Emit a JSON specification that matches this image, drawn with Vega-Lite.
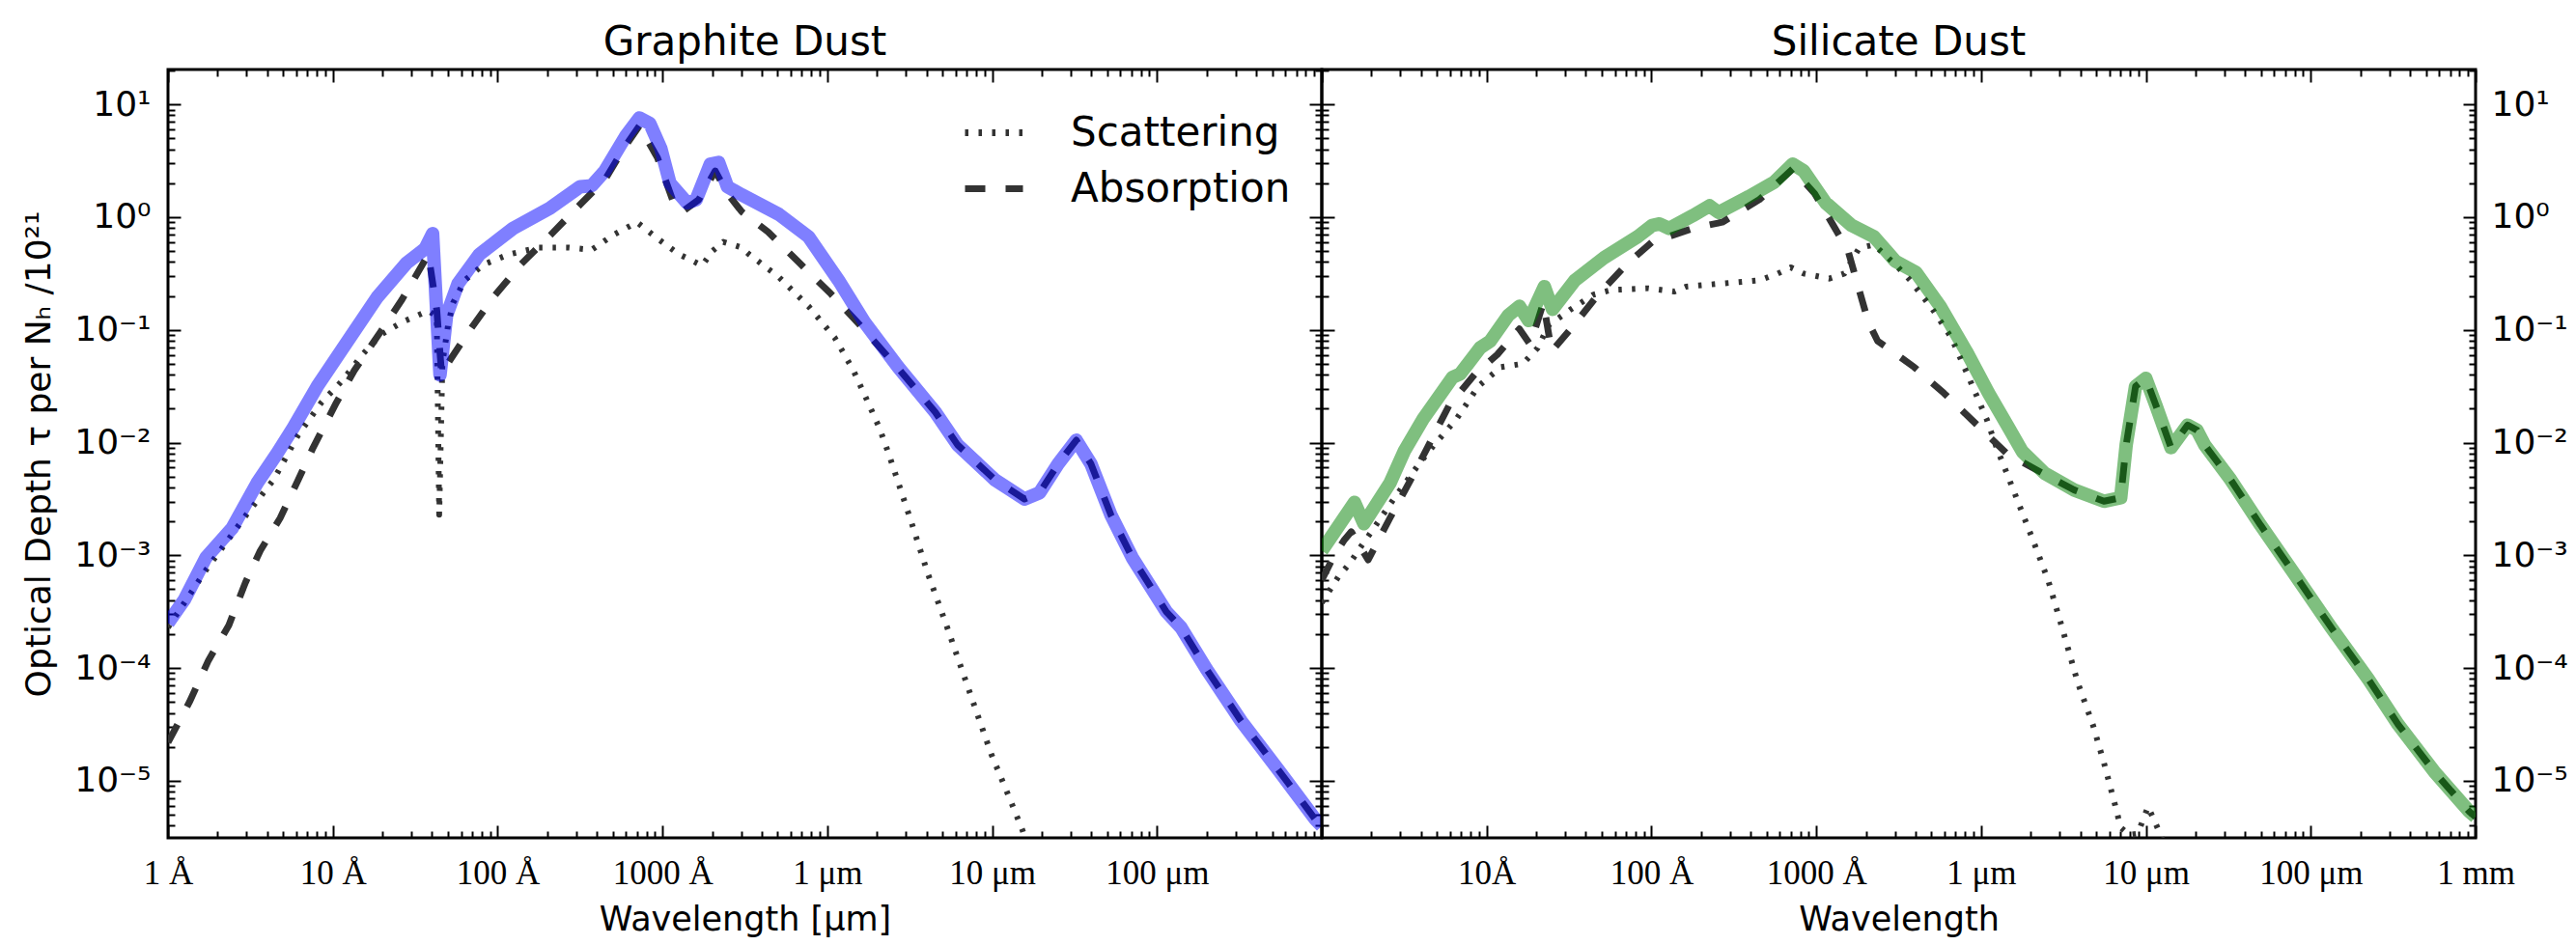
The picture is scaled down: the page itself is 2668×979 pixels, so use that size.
{
  "$schema": "https://vega.github.io/schema/vega-lite/v6.json",
  "padding": {"left": 20, "top": 21, "right": 5, "bottom": 3},
  "background": "white",
  "spacing": 0,
  "bounds": "flush",
  "config": {
    "view": {"stroke": "black", "strokeWidth": 3},
    "font": "DejaVu Sans",
    "axis": {"grid": false, "domain": false, "tickColor": "black", "tickWidth": 2, "labelColor": "black", "titleColor": "black", "titleFontWeight": "normal", "labelFlush": false, "labelOverlap": false, "labelBound": false}
  },
  "resolve": {"legend": {"strokeDash": "independent"}},
  "datasets": {
    "dust": [
      {"dust":"Graphite","kind":"Scattering","wl":0.0001,"tau":0.000229},
      {"dust":"Graphite","kind":"Scattering","wl":0.00017,"tau":0.000741},
      {"dust":"Graphite","kind":"Scattering","wl":0.000302,"tau":0.00234},
      {"dust":"Graphite","kind":"Scattering","wl":0.000437,"tau":0.00468},
      {"dust":"Graphite","kind":"Scattering","wl":0.000617,"tau":0.0117},
      {"dust":"Graphite","kind":"Scattering","wl":0.000851,"tau":0.0226},
      {"dust":"Graphite","kind":"Scattering","wl":0.00115,"tau":0.0359},
      {"dust":"Graphite","kind":"Scattering","wl":0.00151,"tau":0.0603},
      {"dust":"Graphite","kind":"Scattering","wl":0.00195,"tau":0.0902},
      {"dust":"Graphite","kind":"Scattering","wl":0.00263,"tau":0.117},
      {"dust":"Graphite","kind":"Scattering","wl":0.0038,"tau":0.148},
      {"dust":"Graphite","kind":"Scattering","wl":0.00427,"tau":0.132},
      {"dust":"Graphite","kind":"Scattering","wl":0.00442,"tau":0.00229},
      {"dust":"Graphite","kind":"Scattering","wl":0.00462,"tau":0.0501},
      {"dust":"Graphite","kind":"Scattering","wl":0.00501,"tau":0.112},
      {"dust":"Graphite","kind":"Scattering","wl":0.00537,"tau":0.174},
      {"dust":"Graphite","kind":"Scattering","wl":0.00631,"tau":0.275},
      {"dust":"Graphite","kind":"Scattering","wl":0.00822,"tau":0.38},
      {"dust":"Graphite","kind":"Scattering","wl":0.0117,"tau":0.468},
      {"dust":"Graphite","kind":"Scattering","wl":0.0178,"tau":0.537},
      {"dust":"Graphite","kind":"Scattering","wl":0.0269,"tau":0.537},
      {"dust":"Graphite","kind":"Scattering","wl":0.0372,"tau":0.513},
      {"dust":"Graphite","kind":"Scattering","wl":0.0501,"tau":0.692},
      {"dust":"Graphite","kind":"Scattering","wl":0.07,"tau":0.902},
      {"dust":"Graphite","kind":"Scattering","wl":0.0933,"tau":0.646},
      {"dust":"Graphite","kind":"Scattering","wl":0.126,"tau":0.468},
      {"dust":"Graphite","kind":"Scattering","wl":0.174,"tau":0.372},
      {"dust":"Graphite","kind":"Scattering","wl":0.201,"tau":0.501},
      {"dust":"Graphite","kind":"Scattering","wl":0.234,"tau":0.603},
      {"dust":"Graphite","kind":"Scattering","wl":0.302,"tau":0.537},
      {"dust":"Graphite","kind":"Scattering","wl":0.335,"tau":0.468},
      {"dust":"Graphite","kind":"Scattering","wl":0.507,"tau":0.295},
      {"dust":"Graphite","kind":"Scattering","wl":0.769,"tau":0.162},
      {"dust":"Graphite","kind":"Scattering","wl":1.11,"tau":0.0851},
      {"dust":"Graphite","kind":"Scattering","wl":1.44,"tau":0.0437},
      {"dust":"Graphite","kind":"Scattering","wl":1.77,"tau":0.0226},
      {"dust":"Graphite","kind":"Scattering","wl":2.07,"tau":0.0135},
      {"dust":"Graphite","kind":"Scattering","wl":2.36,"tau":0.00794},
      {"dust":"Graphite","kind":"Scattering","wl":3.21,"tau":0.00204},
      {"dust":"Graphite","kind":"Scattering","wl":4.07,"tau":0.000692},
      {"dust":"Graphite","kind":"Scattering","wl":5.28,"tau":0.00024},
      {"dust":"Graphite","kind":"Scattering","wl":7.21,"tau":0.0000646},
      {"dust":"Graphite","kind":"Scattering","wl":9.86,"tau":0.0000174},
      {"dust":"Graphite","kind":"Scattering","wl":12.8,"tau":0.00000692},
      {"dust":"Graphite","kind":"Scattering","wl":15.3,"tau":0.00000363},
      {"dust":"Graphite","kind":"Scattering","wl":17.8,"tau":0.00000178},

      {"dust":"Graphite","kind":"Absorption","wl":0.0001,"tau":0.0000219},
      {"dust":"Graphite","kind":"Absorption","wl":0.000135,"tau":0.0000501},
      {"dust":"Graphite","kind":"Absorption","wl":0.000176,"tau":0.000117},
      {"dust":"Graphite","kind":"Absorption","wl":0.000234,"tau":0.00024},
      {"dust":"Graphite","kind":"Absorption","wl":0.000295,"tau":0.000575},
      {"dust":"Graphite","kind":"Absorption","wl":0.000363,"tau":0.0011},
      {"dust":"Graphite","kind":"Absorption","wl":0.000479,"tau":0.00214},
      {"dust":"Graphite","kind":"Absorption","wl":0.000617,"tau":0.00468},
      {"dust":"Graphite","kind":"Absorption","wl":0.000759,"tau":0.00902},
      {"dust":"Graphite","kind":"Absorption","wl":0.00105,"tau":0.0226},
      {"dust":"Graphite","kind":"Absorption","wl":0.00135,"tau":0.0437},
      {"dust":"Graphite","kind":"Absorption","wl":0.00195,"tau":0.0964},
      {"dust":"Graphite","kind":"Absorption","wl":0.00263,"tau":0.186},
      {"dust":"Graphite","kind":"Absorption","wl":0.0038,"tau":0.468},
      {"dust":"Graphite","kind":"Absorption","wl":0.00427,"tau":0.151},
      {"dust":"Graphite","kind":"Absorption","wl":0.00457,"tau":0.0407},
      {"dust":"Graphite","kind":"Absorption","wl":0.00513,"tau":0.0537},
      {"dust":"Graphite","kind":"Absorption","wl":0.00668,"tau":0.0964},
      {"dust":"Graphite","kind":"Absorption","wl":0.00955,"tau":0.2},
      {"dust":"Graphite","kind":"Absorption","wl":0.0138,"tau":0.38},
      {"dust":"Graphite","kind":"Absorption","wl":0.0209,"tau":0.692},
      {"dust":"Graphite","kind":"Absorption","wl":0.0316,"tau":1.29},
      {"dust":"Graphite","kind":"Absorption","wl":0.0447,"tau":2.14},
      {"dust":"Graphite","kind":"Absorption","wl":0.0582,"tau":4.07},
      {"dust":"Graphite","kind":"Absorption","wl":0.0724,"tau":6.46},
      {"dust":"Graphite","kind":"Absorption","wl":0.0933,"tau":3.36},
      {"dust":"Graphite","kind":"Absorption","wl":0.115,"tau":1.43},
      {"dust":"Graphite","kind":"Absorption","wl":0.13,"tau":1.1},
      {"dust":"Graphite","kind":"Absorption","wl":0.166,"tau":1.43},
      {"dust":"Graphite","kind":"Absorption","wl":0.209,"tau":2.57},
      {"dust":"Graphite","kind":"Absorption","wl":0.248,"tau":1.62},
      {"dust":"Graphite","kind":"Absorption","wl":0.302,"tau":1.12},
      {"dust":"Graphite","kind":"Absorption","wl":0.437,"tau":0.741},
      {"dust":"Graphite","kind":"Absorption","wl":0.661,"tau":0.407},
      {"dust":"Graphite","kind":"Absorption","wl":1.05,"tau":0.209},
      {"dust":"Graphite","kind":"Absorption","wl":1.58,"tau":0.11},
      {"dust":"Graphite","kind":"Absorption","wl":2.69,"tau":0.0457},
      {"dust":"Graphite","kind":"Absorption","wl":4.52,"tau":0.0186},
      {"dust":"Graphite","kind":"Absorption","wl":6.17,"tau":0.00955},
      {"dust":"Graphite","kind":"Absorption","wl":10.4,"tau":0.00468},
      {"dust":"Graphite","kind":"Absorption","wl":15.7,"tau":0.00316},
      {"dust":"Graphite","kind":"Absorption","wl":19.4,"tau":0.00359},
      {"dust":"Graphite","kind":"Absorption","wl":25.1,"tau":0.00646},
      {"dust":"Graphite","kind":"Absorption","wl":32.4,"tau":0.0105},
      {"dust":"Graphite","kind":"Absorption","wl":39.8,"tau":0.00646},
      {"dust":"Graphite","kind":"Absorption","wl":52.5,"tau":0.00229},
      {"dust":"Graphite","kind":"Absorption","wl":70.8,"tau":0.000955},
      {"dust":"Graphite","kind":"Absorption","wl":114,"tau":0.000316},
      {"dust":"Graphite","kind":"Absorption","wl":140,"tau":0.000229},
      {"dust":"Graphite","kind":"Absorption","wl":200,"tau":0.0000977},
      {"dust":"Graphite","kind":"Absorption","wl":324,"tau":0.0000339},
      {"dust":"Graphite","kind":"Absorption","wl":543,"tau":0.0000126},
      {"dust":"Graphite","kind":"Absorption","wl":912,"tau":0.00000457},
      {"dust":"Graphite","kind":"Absorption","wl":1000,"tau":0.00000398},

      {"dust":"Graphite","kind":"Total","wl":0.0001,"tau":0.000251},
      {"dust":"Graphite","kind":"Total","wl":0.000126,"tau":0.000407},
      {"dust":"Graphite","kind":"Total","wl":0.00017,"tau":0.000955},
      {"dust":"Graphite","kind":"Total","wl":0.000245,"tau":0.00174},
      {"dust":"Graphite","kind":"Total","wl":0.000347,"tau":0.00437},
      {"dust":"Graphite","kind":"Total","wl":0.000457,"tau":0.00794},
      {"dust":"Graphite","kind":"Total","wl":0.000575,"tau":0.0135},
      {"dust":"Graphite","kind":"Total","wl":0.000805,"tau":0.0316},
      {"dust":"Graphite","kind":"Total","wl":0.00123,"tau":0.0794},
      {"dust":"Graphite","kind":"Total","wl":0.00186,"tau":0.195},
      {"dust":"Graphite","kind":"Total","wl":0.00279,"tau":0.389},
      {"dust":"Graphite","kind":"Total","wl":0.00363,"tau":0.525},
      {"dust":"Graphite","kind":"Total","wl":0.00403,"tau":0.714},
      {"dust":"Graphite","kind":"Total","wl":0.00447,"tau":0.0398},
      {"dust":"Graphite","kind":"Total","wl":0.0049,"tau":0.135},
      {"dust":"Graphite","kind":"Total","wl":0.00575,"tau":0.257},
      {"dust":"Graphite","kind":"Total","wl":0.00776,"tau":0.468},
      {"dust":"Graphite","kind":"Total","wl":0.0124,"tau":0.794},
      {"dust":"Graphite","kind":"Total","wl":0.0209,"tau":1.21},
      {"dust":"Graphite","kind":"Total","wl":0.0316,"tau":1.86},
      {"dust":"Graphite","kind":"Total","wl":0.0372,"tau":1.9},
      {"dust":"Graphite","kind":"Total","wl":0.0447,"tau":2.57},
      {"dust":"Graphite","kind":"Total","wl":0.0603,"tau":5.32},
      {"dust":"Graphite","kind":"Total","wl":0.0724,"tau":7.59},
      {"dust":"Graphite","kind":"Total","wl":0.0838,"tau":6.76},
      {"dust":"Graphite","kind":"Total","wl":0.0977,"tau":4.07},
      {"dust":"Graphite","kind":"Total","wl":0.111,"tau":2.0},
      {"dust":"Graphite","kind":"Total","wl":0.141,"tau":1.34},
      {"dust":"Graphite","kind":"Total","wl":0.16,"tau":1.43},
      {"dust":"Graphite","kind":"Total","wl":0.195,"tau":2.95},
      {"dust":"Graphite","kind":"Total","wl":0.219,"tau":3.06},
      {"dust":"Graphite","kind":"Total","wl":0.248,"tau":1.86},
      {"dust":"Graphite","kind":"Total","wl":0.302,"tau":1.58},
      {"dust":"Graphite","kind":"Total","wl":0.508,"tau":1.06},
      {"dust":"Graphite","kind":"Total","wl":0.769,"tau":0.67},
      {"dust":"Graphite","kind":"Total","wl":1.17,"tau":0.275},
      {"dust":"Graphite","kind":"Total","wl":1.68,"tau":0.117},
      {"dust":"Graphite","kind":"Total","wl":2.69,"tau":0.0468},
      {"dust":"Graphite","kind":"Total","wl":4.52,"tau":0.0186},
      {"dust":"Graphite","kind":"Total","wl":6.17,"tau":0.00955},
      {"dust":"Graphite","kind":"Total","wl":10.4,"tau":0.00468},
      {"dust":"Graphite","kind":"Total","wl":15.7,"tau":0.00316},
      {"dust":"Graphite","kind":"Total","wl":19.4,"tau":0.00359},
      {"dust":"Graphite","kind":"Total","wl":25.1,"tau":0.00646},
      {"dust":"Graphite","kind":"Total","wl":32.4,"tau":0.0105},
      {"dust":"Graphite","kind":"Total","wl":39.8,"tau":0.00646},
      {"dust":"Graphite","kind":"Total","wl":52.5,"tau":0.00229},
      {"dust":"Graphite","kind":"Total","wl":70.8,"tau":0.000955},
      {"dust":"Graphite","kind":"Total","wl":114,"tau":0.000316},
      {"dust":"Graphite","kind":"Total","wl":140,"tau":0.000229},
      {"dust":"Graphite","kind":"Total","wl":200,"tau":0.0000977},
      {"dust":"Graphite","kind":"Total","wl":324,"tau":0.0000339},
      {"dust":"Graphite","kind":"Total","wl":543,"tau":0.0000126},
      {"dust":"Graphite","kind":"Total","wl":912,"tau":0.00000457},
      {"dust":"Graphite","kind":"Total","wl":1000,"tau":0.00000398},

      {"dust":"Silicate","kind":"Scattering","wl":0.0001,"tau":0.00038},
      {"dust":"Silicate","kind":"Scattering","wl":0.000126,"tau":0.000646},
      {"dust":"Silicate","kind":"Scattering","wl":0.000148,"tau":0.000851},
      {"dust":"Silicate","kind":"Scattering","wl":0.000171,"tau":0.00117},
      {"dust":"Silicate","kind":"Scattering","wl":0.0002,"tau":0.00162},
      {"dust":"Silicate","kind":"Scattering","wl":0.000273,"tau":0.00316},
      {"dust":"Silicate","kind":"Scattering","wl":0.000389,"tau":0.00646},
      {"dust":"Silicate","kind":"Scattering","wl":0.000481,"tau":0.00955},
      {"dust":"Silicate","kind":"Scattering","wl":0.000656,"tau":0.0162},
      {"dust":"Silicate","kind":"Scattering","wl":0.000891,"tau":0.0316},
      {"dust":"Silicate","kind":"Scattering","wl":0.00122,"tau":0.0468},
      {"dust":"Silicate","kind":"Scattering","wl":0.00166,"tau":0.0501},
      {"dust":"Silicate","kind":"Scattering","wl":0.00204,"tau":0.0692},
      {"dust":"Silicate","kind":"Scattering","wl":0.00238,"tau":0.11},
      {"dust":"Silicate","kind":"Scattering","wl":0.00324,"tau":0.152},
      {"dust":"Silicate","kind":"Scattering","wl":0.00443,"tau":0.205},
      {"dust":"Silicate","kind":"Scattering","wl":0.00571,"tau":0.226},
      {"dust":"Silicate","kind":"Scattering","wl":0.00959,"tau":0.234},
      {"dust":"Silicate","kind":"Scattering","wl":0.0138,"tau":0.219},
      {"dust":"Silicate","kind":"Scattering","wl":0.0162,"tau":0.242},
      {"dust":"Silicate","kind":"Scattering","wl":0.0269,"tau":0.258},
      {"dust":"Silicate","kind":"Scattering","wl":0.0452,"tau":0.275},
      {"dust":"Silicate","kind":"Scattering","wl":0.0585,"tau":0.316},
      {"dust":"Silicate","kind":"Scattering","wl":0.0701,"tau":0.358},
      {"dust":"Silicate","kind":"Scattering","wl":0.0838,"tau":0.316},
      {"dust":"Silicate","kind":"Scattering","wl":0.12,"tau":0.285},
      {"dust":"Silicate","kind":"Scattering","wl":0.148,"tau":0.316},
      {"dust":"Silicate","kind":"Scattering","wl":0.182,"tau":0.532},
      {"dust":"Silicate","kind":"Scattering","wl":0.224,"tau":0.569},
      {"dust":"Silicate","kind":"Scattering","wl":0.302,"tau":0.38},
      {"dust":"Silicate","kind":"Scattering","wl":0.372,"tau":0.275},
      {"dust":"Silicate","kind":"Scattering","wl":0.508,"tau":0.152},
      {"dust":"Silicate","kind":"Scattering","wl":0.661,"tau":0.0851},
      {"dust":"Silicate","kind":"Scattering","wl":0.855,"tau":0.0359},
      {"dust":"Silicate","kind":"Scattering","wl":1.08,"tau":0.0162},
      {"dust":"Silicate","kind":"Scattering","wl":1.26,"tau":0.00851},
      {"dust":"Silicate","kind":"Scattering","wl":1.36,"tau":0.00646},
      {"dust":"Silicate","kind":"Scattering","wl":1.68,"tau":0.00295},
      {"dust":"Silicate","kind":"Scattering","wl":2.07,"tau":0.00135},
      {"dust":"Silicate","kind":"Scattering","wl":2.55,"tau":0.000603},
      {"dust":"Silicate","kind":"Scattering","wl":3.14,"tau":0.000214},
      {"dust":"Silicate","kind":"Scattering","wl":3.86,"tau":0.0000741},
      {"dust":"Silicate","kind":"Scattering","wl":4.76,"tau":0.0000316},
      {"dust":"Silicate","kind":"Scattering","wl":5.56,"tau":0.0000145},
      {"dust":"Silicate","kind":"Scattering","wl":6.5,"tau":0.0000061},
      {"dust":"Silicate","kind":"Scattering","wl":7.03,"tau":0.00000385},
      {"dust":"Silicate","kind":"Scattering","wl":7.94,"tau":0.00000331},
      {"dust":"Silicate","kind":"Scattering","wl":8.91,"tau":0.00000339},
      {"dust":"Silicate","kind":"Scattering","wl":10.3,"tau":0.00000589},
      {"dust":"Silicate","kind":"Scattering","wl":12.2,"tau":0.00000339},
      {"dust":"Silicate","kind":"Scattering","wl":13.5,"tau":0.00000224},

      {"dust":"Silicate","kind":"Absorption","wl":0.0001,"tau":0.000603},
      {"dust":"Silicate","kind":"Absorption","wl":0.000117,"tau":0.000955},
      {"dust":"Silicate","kind":"Absorption","wl":0.000136,"tau":0.00135},
      {"dust":"Silicate","kind":"Absorption","wl":0.000151,"tau":0.00162},
      {"dust":"Silicate","kind":"Absorption","wl":0.000191,"tau":0.000912},
      {"dust":"Silicate","kind":"Absorption","wl":0.000259,"tau":0.00214},
      {"dust":"Silicate","kind":"Absorption","wl":0.000355,"tau":0.00501},
      {"dust":"Silicate","kind":"Absorption","wl":0.000437,"tau":0.00902},
      {"dust":"Silicate","kind":"Absorption","wl":0.000592,"tau":0.0214},
      {"dust":"Silicate","kind":"Absorption","wl":0.000851,"tau":0.0407},
      {"dust":"Silicate","kind":"Absorption","wl":0.00116,"tau":0.0603},
      {"dust":"Silicate","kind":"Absorption","wl":0.00158,"tau":0.102},
      {"dust":"Silicate","kind":"Absorption","wl":0.00184,"tau":0.0741},
      {"dust":"Silicate","kind":"Absorption","wl":0.00221,"tau":0.174},
      {"dust":"Silicate","kind":"Absorption","wl":0.00248,"tau":0.0646},
      {"dust":"Silicate","kind":"Absorption","wl":0.00324,"tau":0.102},
      {"dust":"Silicate","kind":"Absorption","wl":0.00468,"tau":0.2},
      {"dust":"Silicate","kind":"Absorption","wl":0.00705,"tau":0.38},
      {"dust":"Silicate","kind":"Absorption","wl":0.0101,"tau":0.603},
      {"dust":"Silicate","kind":"Absorption","wl":0.0117,"tau":0.646},
      {"dust":"Silicate","kind":"Absorption","wl":0.0178,"tau":0.794},
      {"dust":"Silicate","kind":"Absorption","wl":0.0269,"tau":0.902},
      {"dust":"Silicate","kind":"Absorption","wl":0.0451,"tau":1.43},
      {"dust":"Silicate","kind":"Absorption","wl":0.0719,"tau":2.67},
      {"dust":"Silicate","kind":"Absorption","wl":0.0977,"tau":1.62},
      {"dust":"Silicate","kind":"Absorption","wl":0.127,"tau":0.843},
      {"dust":"Silicate","kind":"Absorption","wl":0.156,"tau":0.501},
      {"dust":"Silicate","kind":"Absorption","wl":0.182,"tau":0.226},
      {"dust":"Silicate","kind":"Absorption","wl":0.207,"tau":0.117},
      {"dust":"Silicate","kind":"Absorption","wl":0.236,"tau":0.0794},
      {"dust":"Silicate","kind":"Absorption","wl":0.302,"tau":0.0617},
      {"dust":"Silicate","kind":"Absorption","wl":0.392,"tau":0.0468},
      {"dust":"Silicate","kind":"Absorption","wl":0.594,"tau":0.0275},
      {"dust":"Silicate","kind":"Absorption","wl":0.948,"tau":0.0143},
      {"dust":"Silicate","kind":"Absorption","wl":1.44,"tau":0.00794},
      {"dust":"Silicate","kind":"Absorption","wl":2.42,"tau":0.00525},
      {"dust":"Silicate","kind":"Absorption","wl":3.67,"tau":0.0038},
      {"dust":"Silicate","kind":"Absorption","wl":5.56,"tau":0.00302},
      {"dust":"Silicate","kind":"Absorption","wl":7.03,"tau":0.00324},
      {"dust":"Silicate","kind":"Absorption","wl":7.59,"tau":0.00955},
      {"dust":"Silicate","kind":"Absorption","wl":8.65,"tau":0.0316},
      {"dust":"Silicate","kind":"Absorption","wl":9.98,"tau":0.0372},
      {"dust":"Silicate","kind":"Absorption","wl":11.5,"tau":0.0214},
      {"dust":"Silicate","kind":"Absorption","wl":14.2,"tau":0.00902},
      {"dust":"Silicate","kind":"Absorption","wl":17.9,"tau":0.0143},
      {"dust":"Silicate","kind":"Absorption","wl":20.4,"tau":0.0129},
      {"dust":"Silicate","kind":"Absorption","wl":22.7,"tau":0.00955},
      {"dust":"Silicate","kind":"Absorption","wl":32.7,"tau":0.00468},
      {"dust":"Silicate","kind":"Absorption","wl":49.5,"tau":0.00186},
      {"dust":"Silicate","kind":"Absorption","wl":79.1,"tau":0.000692},
      {"dust":"Silicate","kind":"Absorption","wl":133,"tau":0.000229},
      {"dust":"Silicate","kind":"Absorption","wl":224,"tau":0.0000794},
      {"dust":"Silicate","kind":"Absorption","wl":339,"tau":0.0000316},
      {"dust":"Silicate","kind":"Absorption","wl":571,"tau":0.0000117},
      {"dust":"Silicate","kind":"Absorption","wl":912,"tau":0.00000537},
      {"dust":"Silicate","kind":"Absorption","wl":1000,"tau":0.00000479},

      {"dust":"Silicate","kind":"Total","wl":0.0001,"tau":0.0011},
      {"dust":"Silicate","kind":"Total","wl":0.000158,"tau":0.00295},
      {"dust":"Silicate","kind":"Total","wl":0.00018,"tau":0.00191},
      {"dust":"Silicate","kind":"Total","wl":0.000259,"tau":0.00437},
      {"dust":"Silicate","kind":"Total","wl":0.000318,"tau":0.00851},
      {"dust":"Silicate","kind":"Total","wl":0.000412,"tau":0.0162},
      {"dust":"Silicate","kind":"Total","wl":0.000622,"tau":0.038},
      {"dust":"Silicate","kind":"Total","wl":0.000692,"tau":0.0407},
      {"dust":"Silicate","kind":"Total","wl":0.000912,"tau":0.0692},
      {"dust":"Silicate","kind":"Total","wl":0.00105,"tau":0.0794},
      {"dust":"Silicate","kind":"Total","wl":0.00135,"tau":0.134},
      {"dust":"Silicate","kind":"Total","wl":0.00158,"tau":0.162},
      {"dust":"Silicate","kind":"Total","wl":0.0018,"tau":0.121},
      {"dust":"Silicate","kind":"Total","wl":0.00224,"tau":0.242},
      {"dust":"Silicate","kind":"Total","wl":0.00251,"tau":0.152},
      {"dust":"Silicate","kind":"Total","wl":0.00343,"tau":0.275},
      {"dust":"Silicate","kind":"Total","wl":0.00516,"tau":0.437},
      {"dust":"Silicate","kind":"Total","wl":0.00824,"tau":0.67},
      {"dust":"Silicate","kind":"Total","wl":0.0101,"tau":0.843},
      {"dust":"Silicate","kind":"Total","wl":0.0112,"tau":0.871},
      {"dust":"Silicate","kind":"Total","wl":0.0128,"tau":0.794},
      {"dust":"Silicate","kind":"Total","wl":0.0178,"tau":1.03},
      {"dust":"Silicate","kind":"Total","wl":0.0225,"tau":1.26},
      {"dust":"Silicate","kind":"Total","wl":0.0256,"tau":1.1},
      {"dust":"Silicate","kind":"Total","wl":0.0389,"tau":1.52},
      {"dust":"Silicate","kind":"Total","wl":0.0557,"tau":2.05},
      {"dust":"Silicate","kind":"Total","wl":0.0719,"tau":2.95},
      {"dust":"Silicate","kind":"Total","wl":0.0838,"tau":2.57},
      {"dust":"Silicate","kind":"Total","wl":0.114,"tau":1.34},
      {"dust":"Silicate","kind":"Total","wl":0.164,"tau":0.843},
      {"dust":"Silicate","kind":"Total","wl":0.224,"tau":0.67},
      {"dust":"Silicate","kind":"Total","wl":0.302,"tau":0.407},
      {"dust":"Silicate","kind":"Total","wl":0.402,"tau":0.324},
      {"dust":"Silicate","kind":"Total","wl":0.564,"tau":0.162},
      {"dust":"Silicate","kind":"Total","wl":0.813,"tau":0.0646},
      {"dust":"Silicate","kind":"Total","wl":1.11,"tau":0.0275},
      {"dust":"Silicate","kind":"Total","wl":1.44,"tau":0.0143},
      {"dust":"Silicate","kind":"Total","wl":1.78,"tau":0.00832},
      {"dust":"Silicate","kind":"Total","wl":2.42,"tau":0.00537},
      {"dust":"Silicate","kind":"Total","wl":3.67,"tau":0.0038},
      {"dust":"Silicate","kind":"Total","wl":5.56,"tau":0.00302},
      {"dust":"Silicate","kind":"Total","wl":7.03,"tau":0.00324},
      {"dust":"Silicate","kind":"Total","wl":7.59,"tau":0.00955},
      {"dust":"Silicate","kind":"Total","wl":8.65,"tau":0.0316},
      {"dust":"Silicate","kind":"Total","wl":9.98,"tau":0.0372},
      {"dust":"Silicate","kind":"Total","wl":11.5,"tau":0.0214},
      {"dust":"Silicate","kind":"Total","wl":14.2,"tau":0.00902},
      {"dust":"Silicate","kind":"Total","wl":17.9,"tau":0.0143},
      {"dust":"Silicate","kind":"Total","wl":20.4,"tau":0.0129},
      {"dust":"Silicate","kind":"Total","wl":22.7,"tau":0.00955},
      {"dust":"Silicate","kind":"Total","wl":32.7,"tau":0.00468},
      {"dust":"Silicate","kind":"Total","wl":49.5,"tau":0.00186},
      {"dust":"Silicate","kind":"Total","wl":79.1,"tau":0.000692},
      {"dust":"Silicate","kind":"Total","wl":133,"tau":0.000229},
      {"dust":"Silicate","kind":"Total","wl":224,"tau":0.0000794},
      {"dust":"Silicate","kind":"Total","wl":339,"tau":0.0000316},
      {"dust":"Silicate","kind":"Total","wl":571,"tau":0.0000117},
      {"dust":"Silicate","kind":"Total","wl":912,"tau":0.00000537},
      {"dust":"Silicate","kind":"Total","wl":1000,"tau":0.00000479}
    ]
  },
  "data": {"name": "dust"},
  "hconcat": [
    {
      "width": 1195,
      "height": 796,
      "title": {"text": "Graphite Dust", "font": "DejaVu Sans", "fontSize": 42, "fontWeight": "normal", "color": "black", "baseline": "alphabetic", "offset": -28, "anchor": "middle"},
      "transform": [{"filter": "datum.dust === 'Graphite'"}],
      "resolve": {"axis": {"x": "independent", "y": "independent"}},
      "layer": [
        {
          "transform": [{"filter": "datum.kind === 'Scattering'"}],
          "mark": {"type": "line", "color": "#333333", "strokeWidth": 6, "clip": true, "strokeJoin": "round"},
          "encoding": {
            "x": {"field": "wl", "type": "quantitative", "scale": {"type": "log", "domain": [0.0001, 1000], "nice": false},
              "axis": {"orient": "bottom", "values": [0.0001, 0.001, 0.01, 0.1, 1, 10, 100], "ticks": false, "tickSize": 0, "labelPadding": 19, "labelFont": "Liberation Serif", "labelFontSize": 35,
                "labelExpr": "datum.value < 0.0005 ? '1 Å' : datum.value < 0.005 ? '10 Å' : datum.value < 0.05 ? '100 Å' : datum.value < 0.5 ? '1000 Å' : datum.value < 5 ? '1 μm' : datum.value < 50 ? '10 μm' : '100 μm'",
                "title": "Wavelength [μm]", "titleFont": "DejaVu Sans", "titleFontSize": 35, "titleBaseline": "alphabetic", "titleY": 95}},
            "y": {"field": "tau", "type": "quantitative", "scale": {"type": "log", "domain": [0.00000312, 20.4], "nice": false},
              "axis": {"orient": "left", "values": [0.00001, 0.0001, 0.001, 0.01, 0.1, 1, 10], "ticks": false, "tickSize": 0, "labelPadding": 18, "labelFont": "DejaVu Sans", "labelFontSize": 36,
                "labelExpr": "'10' + (datum.value > 5 ? '¹' : datum.value > 0.5 ? '⁰' : datum.value > 0.05 ? '⁻¹' : datum.value > 0.005 ? '⁻²' : datum.value > 0.0005 ? '⁻³' : datum.value > 0.00005 ? '⁻⁴' : '⁻⁵')",
                "title": "Optical Depth τ per Nₕ /10²¹", "titleFont": "DejaVu Sans", "titleFontSize": 36, "titleBaseline": "alphabetic", "titleX": -123}},
            "strokeDash": {"field": "kind", "type": "nominal",
              "scale": {"domain": ["Scattering", "Absorption"], "range": [[3.5, 10.5], [21, 21]]},
              "legend": {"orient": "top-right", "offset": 32, "title": null, "padding": 0, "labelFont": "DejaVu Sans", "labelFontSize": 42, "labelColor": "black", "labelLimit": 500, "symbolType": "stroke", "symbolSize": 3600, "symbolStrokeWidth": 7, "symbolStrokeColor": "#333333", "labelOffset": 46, "rowPadding": 3}}
          }
        },
        {
          "transform": [{"filter": "datum.kind === 'Absorption'"}],
          "mark": {"type": "line", "color": "#333333", "strokeWidth": 7, "clip": true, "strokeJoin": "round"},
          "encoding": {
            "x": {"field": "wl", "type": "quantitative", "scale": {"type": "log", "domain": [0.0001, 1000], "nice": false},
              "axis": {"orient": "bottom", "labels": false, "title": null, "values": [0.0001,0.0002,0.0003,0.0004,0.0005,0.0006,0.0007,0.0008,0.0009,0.001,0.002,0.003,0.004,0.005,0.006,0.007,0.008,0.009,0.01,0.02,0.03,0.04,0.05,0.06,0.07,0.08,0.09,0.1,0.2,0.3,0.4,0.5,0.6,0.7,0.8,0.9,1,2,3,4,5,6,7,8,9,10,20,30,40,50,60,70,80,90,100,200,300,400,500,600,700,800,900,1000],
                "tickSize": {"condition": {"test": "abs(log(datum.value)/LN10 - round(log(datum.value)/LN10)) < 0.001", "value": -13}, "value": -7}}},
            "y": {"field": "tau", "type": "quantitative", "scale": {"type": "log", "domain": [0.00000312, 20.4], "nice": false},
              "axis": {"orient": "left", "labels": false, "title": null, "values": [0.000004,0.000005,0.000006,0.000007,0.000008,0.000009,0.00001,0.00002,0.00003,0.00004,0.00005,0.00006,0.00007,0.00008,0.00009,0.0001,0.0002,0.0003,0.0004,0.0005,0.0006,0.0007,0.0008,0.0009,0.001,0.002,0.003,0.004,0.005,0.006,0.007,0.008,0.009,0.01,0.02,0.03,0.04,0.05,0.06,0.07,0.08,0.09,0.1,0.2,0.3,0.4,0.5,0.6,0.7,0.8,0.9,1,2,3,4,5,6,7,8,9,10,20],
                "tickSize": {"condition": {"test": "abs(log(datum.value)/LN10 - round(log(datum.value)/LN10)) < 0.001", "value": -13}, "value": -7}}},
            "strokeDash": {"field": "kind", "type": "nominal", "scale": {"domain": ["Scattering", "Absorption"], "range": [[3.5, 10.5], [21, 21]]}}
          }
        },
        {
          "transform": [{"filter": "datum.kind === 'Total'"}],
          "mark": {"type": "line", "color": "#0000ff", "opacity": 0.5, "strokeWidth": 14, "clip": true, "strokeJoin": "round", "strokeCap": "butt"},
          "encoding": {
            "x": {"field": "wl", "type": "quantitative", "scale": {"type": "log", "domain": [0.0001, 1000], "nice": false},
              "axis": {"orient": "top", "labels": false, "title": null, "values": [0.0001,0.0002,0.0003,0.0004,0.0005,0.0006,0.0007,0.0008,0.0009,0.001,0.002,0.003,0.004,0.005,0.006,0.007,0.008,0.009,0.01,0.02,0.03,0.04,0.05,0.06,0.07,0.08,0.09,0.1,0.2,0.3,0.4,0.5,0.6,0.7,0.8,0.9,1,2,3,4,5,6,7,8,9,10,20,30,40,50,60,70,80,90,100,200,300,400,500,600,700,800,900,1000],
                "tickSize": {"condition": {"test": "abs(log(datum.value)/LN10 - round(log(datum.value)/LN10)) < 0.001", "value": -13}, "value": -7}}},
            "y": {"field": "tau", "type": "quantitative", "scale": {"type": "log", "domain": [0.00000312, 20.4], "nice": false},
              "axis": {"orient": "right", "labels": false, "title": null, "values": [0.000004,0.000005,0.000006,0.000007,0.000008,0.000009,0.00001,0.00002,0.00003,0.00004,0.00005,0.00006,0.00007,0.00008,0.00009,0.0001,0.0002,0.0003,0.0004,0.0005,0.0006,0.0007,0.0008,0.0009,0.001,0.002,0.003,0.004,0.005,0.006,0.007,0.008,0.009,0.01,0.02,0.03,0.04,0.05,0.06,0.07,0.08,0.09,0.1,0.2,0.3,0.4,0.5,0.6,0.7,0.8,0.9,1,2,3,4,5,6,7,8,9,10,20],
                "tickSize": {"condition": {"test": "abs(log(datum.value)/LN10 - round(log(datum.value)/LN10)) < 0.001", "value": -13}, "value": -7}}}
          }
        }
      ]
    },
    {
      "width": 1195,
      "height": 796,
      "title": {"text": "Silicate Dust", "font": "DejaVu Sans", "fontSize": 42, "fontWeight": "normal", "color": "black", "baseline": "alphabetic", "offset": -28, "anchor": "middle"},
      "transform": [{"filter": "datum.dust === 'Silicate'"}],
      "resolve": {"axis": {"x": "independent", "y": "independent"}},
      "layer": [
        {
          "transform": [{"filter": "datum.kind === 'Scattering'"}],
          "mark": {"type": "line", "color": "#333333", "strokeWidth": 6, "clip": true, "strokeJoin": "round", "strokeDash": [3.5, 10.5]},
          "encoding": {
            "x": {"field": "wl", "type": "quantitative", "scale": {"type": "log", "domain": [0.0001, 1000], "nice": false},
              "axis": {"orient": "bottom", "values": [0.001, 0.01, 0.1, 1, 10, 100, 1000], "ticks": false, "tickSize": 0, "labelPadding": 19, "labelFont": "Liberation Serif", "labelFontSize": 35,
                "labelExpr": "datum.value < 0.005 ? '10Å' : datum.value < 0.05 ? '100 Å' : datum.value < 0.5 ? '1000 Å' : datum.value < 5 ? '1 μm' : datum.value < 50 ? '10 μm' : datum.value < 500 ? '100 μm' : '1 mm'",
                "title": "Wavelength", "titleFont": "DejaVu Sans", "titleFontSize": 35, "titleBaseline": "alphabetic", "titleY": 95}},
            "y": {"field": "tau", "type": "quantitative", "scale": {"type": "log", "domain": [0.00000312, 20.4], "nice": false},
              "axis": {"orient": "right", "values": [0.00001, 0.0001, 0.001, 0.01, 0.1, 1, 10], "ticks": false, "tickSize": 0, "labelPadding": 16, "labelFont": "DejaVu Sans", "labelFontSize": 36,
                "labelExpr": "'10' + (datum.value > 5 ? '¹' : datum.value > 0.5 ? '⁰' : datum.value > 0.05 ? '⁻¹' : datum.value > 0.005 ? '⁻²' : datum.value > 0.0005 ? '⁻³' : datum.value > 0.00005 ? '⁻⁴' : '⁻⁵')",
                "title": null}}
          }
        },
        {
          "transform": [{"filter": "datum.kind === 'Absorption'"}],
          "mark": {"type": "line", "color": "#333333", "strokeWidth": 7, "clip": true, "strokeJoin": "round", "strokeDash": [21, 21]},
          "encoding": {
            "x": {"field": "wl", "type": "quantitative", "scale": {"type": "log", "domain": [0.0001, 1000], "nice": false},
              "axis": {"orient": "bottom", "labels": false, "title": null, "values": [0.0001,0.0002,0.0003,0.0004,0.0005,0.0006,0.0007,0.0008,0.0009,0.001,0.002,0.003,0.004,0.005,0.006,0.007,0.008,0.009,0.01,0.02,0.03,0.04,0.05,0.06,0.07,0.08,0.09,0.1,0.2,0.3,0.4,0.5,0.6,0.7,0.8,0.9,1,2,3,4,5,6,7,8,9,10,20,30,40,50,60,70,80,90,100,200,300,400,500,600,700,800,900,1000],
                "tickSize": {"condition": {"test": "abs(log(datum.value)/LN10 - round(log(datum.value)/LN10)) < 0.001", "value": -13}, "value": -7}}},
            "y": {"field": "tau", "type": "quantitative", "scale": {"type": "log", "domain": [0.00000312, 20.4], "nice": false},
              "axis": {"orient": "left", "labels": false, "title": null, "values": [0.000004,0.000005,0.000006,0.000007,0.000008,0.000009,0.00001,0.00002,0.00003,0.00004,0.00005,0.00006,0.00007,0.00008,0.00009,0.0001,0.0002,0.0003,0.0004,0.0005,0.0006,0.0007,0.0008,0.0009,0.001,0.002,0.003,0.004,0.005,0.006,0.007,0.008,0.009,0.01,0.02,0.03,0.04,0.05,0.06,0.07,0.08,0.09,0.1,0.2,0.3,0.4,0.5,0.6,0.7,0.8,0.9,1,2,3,4,5,6,7,8,9,10,20],
                "tickSize": {"condition": {"test": "abs(log(datum.value)/LN10 - round(log(datum.value)/LN10)) < 0.001", "value": -13}, "value": -7}}}
          }
        },
        {
          "transform": [{"filter": "datum.kind === 'Total'"}],
          "mark": {"type": "line", "color": "#008000", "opacity": 0.5, "strokeWidth": 14, "clip": true, "strokeJoin": "round", "strokeCap": "butt"},
          "encoding": {
            "x": {"field": "wl", "type": "quantitative", "scale": {"type": "log", "domain": [0.0001, 1000], "nice": false},
              "axis": {"orient": "top", "labels": false, "title": null, "values": [0.0001,0.0002,0.0003,0.0004,0.0005,0.0006,0.0007,0.0008,0.0009,0.001,0.002,0.003,0.004,0.005,0.006,0.007,0.008,0.009,0.01,0.02,0.03,0.04,0.05,0.06,0.07,0.08,0.09,0.1,0.2,0.3,0.4,0.5,0.6,0.7,0.8,0.9,1,2,3,4,5,6,7,8,9,10,20,30,40,50,60,70,80,90,100,200,300,400,500,600,700,800,900,1000],
                "tickSize": {"condition": {"test": "abs(log(datum.value)/LN10 - round(log(datum.value)/LN10)) < 0.001", "value": -13}, "value": -7}}},
            "y": {"field": "tau", "type": "quantitative", "scale": {"type": "log", "domain": [0.00000312, 20.4], "nice": false},
              "axis": {"orient": "right", "labels": false, "title": null, "values": [0.000004,0.000005,0.000006,0.000007,0.000008,0.000009,0.00001,0.00002,0.00003,0.00004,0.00005,0.00006,0.00007,0.00008,0.00009,0.0001,0.0002,0.0003,0.0004,0.0005,0.0006,0.0007,0.0008,0.0009,0.001,0.002,0.003,0.004,0.005,0.006,0.007,0.008,0.009,0.01,0.02,0.03,0.04,0.05,0.06,0.07,0.08,0.09,0.1,0.2,0.3,0.4,0.5,0.6,0.7,0.8,0.9,1,2,3,4,5,6,7,8,9,10,20],
                "tickSize": {"condition": {"test": "abs(log(datum.value)/LN10 - round(log(datum.value)/LN10)) < 0.001", "value": -13}, "value": -7}}}
          }
        }
      ]
    }
  ]
}
